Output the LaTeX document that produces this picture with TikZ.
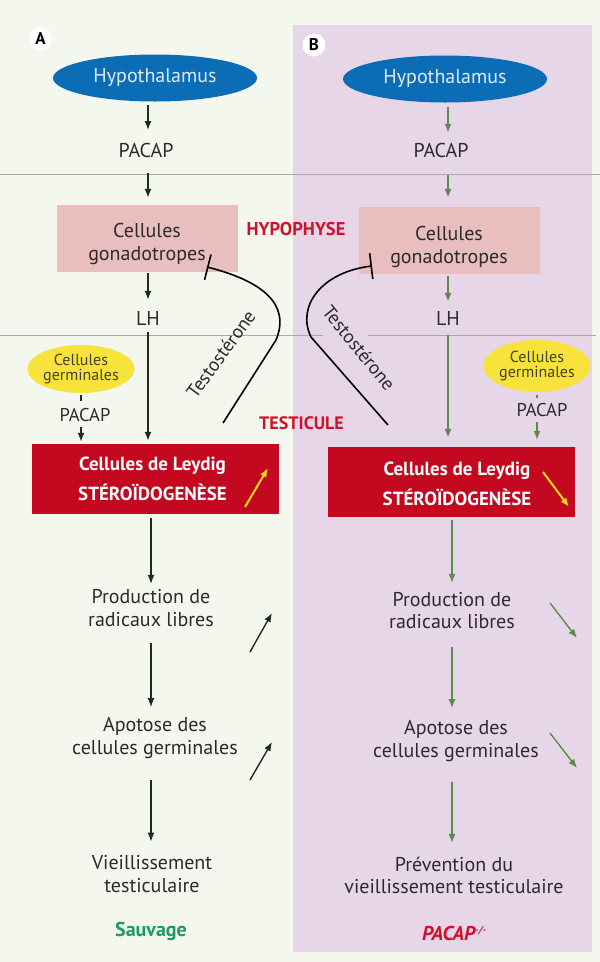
\documentclass[tikz,border=0pt]{standalone}
\usepackage{fontspec}
\setmainfont{PT Sans}
\usetikzlibrary{arrows.meta,shapes.geometric,calc}
\definecolor{bgc}{HTML}{F4F7EE}
\definecolor{panelB}{HTML}{E7D6E8}
\definecolor{linec}{HTML}{A8A8A8}
\definecolor{hypc}{HTML}{0A6DB5}
\definecolor{hyptxt}{HTML}{DDEBF6}
\definecolor{gonc}{HTML}{E9BEBE}
\definecolor{leyc}{HTML}{C4081F}
\definecolor{yelc}{HTML}{F8E33C}
\definecolor{germtxt}{HTML}{44421E}
\definecolor{txtc}{HTML}{2B2B2B}
\definecolor{arAc}{HTML}{1F2A22}
\definecolor{arBc}{HTML}{5E8B4C}
\definecolor{redlbl}{HTML}{D0112B}
\definecolor{greenlbl}{HTML}{1E9A5C}
\definecolor{arrowyel}{HTML}{F2D81E}
\tikzset{
  txt/.style={inner sep=0pt, align=center, text=txtc, font=\fontsize{20}{22.5}\selectfont},
  hypo/.style={ellipse, fill=hypc, minimum width=204pt, minimum height=47pt, inner sep=0pt,
    text=hyptxt, font=\fontsize{20}{22}\selectfont},
  gonbox/.style={rectangle, fill=gonc, minimum width=181pt, minimum height=67pt, inner sep=0pt},
  leybox/.style={rectangle, fill=leyc, minimum width=247pt, minimum height=70pt, inner sep=0pt},
  leytxt/.style={inner sep=0pt, align=center, text=white, font=\bfseries\fontsize{19}{30}\selectfont},
  germ/.style={ellipse, fill=yelc, inner sep=0pt, align=center, text=germtxt,
    font=\fontsize{16}{15.5}\selectfont},
  smallpacap/.style={inner sep=0pt, text=txtc, font=\fontsize{18.5}{20}\selectfont},
  redlabel/.style={inner sep=0pt, text=redlbl, font=\bfseries\fontsize{18.5}{20}\selectfont},
  testo/.style={inner sep=0pt, text=txtc, font=\fontsize{19}{20}\selectfont},
  arA/.style={draw=arAc, line width=1.4pt, -{Latex[length=9pt,width=7pt]}},
  arB/.style={draw=arBc, line width=1.4pt, -{Latex[length=9pt,width=7pt]}},
  yarrow/.style={draw=arrowyel, line width=2pt, -{Latex[length=9pt,width=7pt]}},
  inhib/.style={draw=black, line width=1.6pt, -{Bar[width=26pt]}},
  sepline/.style={draw=linec, line width=0.8pt},
  letter/.style={circle, fill=white, minimum size=23pt, inner sep=0pt, text=black,
    font=\bfseries\fontsize{17}{17}\selectfont}
}
\begin{document}
\begin{tikzpicture}[x=1pt,y=-1pt]
\useasboundingbox (0,0) rectangle (600,962);
\fill[bgc] (0,0) rectangle (600,962);
\fill[panelB] (293,25) rectangle (592,952);
\draw[sepline] (0,174) -- (600,174);
\draw[sepline] (0,335) -- (323,335);
\draw[sepline] (368,335) -- (596,335);

% letters
\node[letter] (letA) at (40.5,39) {A};
\node[letter] (letB) at (314,45) {B};

% ---------- Panel A ----------
\node[hypo] (hypA) at (155,78) {Hypothalamus};
\node[txt] (pacapA) at (146,150) {PACAP};
\node[gonbox] (gonA) at (147.5,238.5) {};
\node[txt, font=\fontsize{20}{23}\selectfont] (gontA) at (147,244) {Cellules\\gonadotropes};
\node[txt] (lhA) at (148,318) {LH};
\node[leybox] (leyA) at (155.5,479) {};
\node[leytxt] (leytA) at (152.5,478.5) {Cellules de Leydig\\STÉROÏDOGENÈSE};
\node[germ, minimum width=94pt, minimum height=48pt] (germA) at (81,369) {Cellules\\germinales};
\node[smallpacap] (pacapsA) at (85,415) {PACAP};
\node[txt] (prodA) at (151,608) {Production de\\radicaux libres};
\node[txt] (apoA) at (155,738) {Apotose des\\cellules germinales};
\node[txt, font=\fontsize{20}{23}\selectfont] (vieA) at (152,874.5) {Vieillissement\\testiculaire};
\node[inner sep=0pt, text=greenlbl, font=\bfseries\fontsize{20}{20}\selectfont] (sauvA) at (151,931) {Sauvage};

\draw[arA, shorten <=3.5pt, shorten >=12.5pt] (hypA.south -| lhA) -- (pacapA.north -| lhA);
\draw[arA, shorten <=16pt, shorten >=7pt] (pacapA.south -| lhA) -- (gonA.north -| lhA);
\draw[arA, shorten <=1pt, shorten >=11pt] (gonA.south -| lhA) -- (lhA.north);
\draw[arA, shorten <=7pt, shorten >=3pt] (lhA.south) -- (leyA.north -| lhA);
\draw[arA, shorten <=4pt, shorten >=5.5pt] (leyA.south -| prodA) -- (prodA.north);
\draw[arA, shorten <=16.5pt, shorten >=10.2pt] (prodA.south) -- (apoA.north -| prodA);
\draw[arA, shorten <=21.5pt, shorten >=14pt] (apoA.south -| prodA) -- (vieA.north -| prodA);
\draw[draw=arAc, line width=1.4pt, shorten <=2pt, shorten >=7pt] (germA.south) -- (pacapsA.north -| germA);
\draw[arA, shorten <=5.5pt, shorten >=2pt] (pacapsA.south -| germA) -- (leyA.north -| germA);

% yellow arrow A
\coordinate (yA0) at ([shift={(89.5,28)}]leyA.center);
\coordinate (yA1) at ([shift={(112.5,-11)}]leyA.center);
\draw[yarrow] (yA0) -- (yA1);

% side arrows A
\coordinate (sA0) at (250,652); \coordinate (sA1) at (272,613);
\coordinate (sA2) at (250,780); \coordinate (sA3) at (272,742);
\draw[arA] (sA0) -- (sA1);
\draw[arA] (sA2) -- (sA3);

% testosterone A
\coordinate (tA0) at (223,423);
\coordinate (tA1) at (276,340);
\coordinate (tA2) at (207,267);
\draw[inhib] (tA0) -- (tA1) .. controls (291,304) and (262,281) .. (tA2);
\node[testo, rotate=54] (testA) at (221,354) {Testostérone};

% ---------- Panel B ----------
\node[hypo] (hypB) at (445,79) {Hypothalamus};
\node[txt] (pacapB) at (441,150.5) {PACAP};
\node[gonbox] (gonB) at (449.5,240.5) {};
\node[txt, font=\fontsize{20}{23}\selectfont] (gontB) at (449,247) {Cellules\\gonadotropes};
\node[txt] (lhB) at (448,318.5) {LH};
\node[leybox] (leyB) at (451.5,482) {};
\node[leytxt] (leytB) at (457,483.5) {Cellules de Leydig\\STÉROÏDOGENÈSE};
\node[germ, minimum width=93pt, minimum height=52pt] (germB) at (537,366) {Cellules\\germinales};
\node[smallpacap] (pacapsB) at (542,410) {PACAP};
\node[txt] (prodB) at (452,610.5) {Production de\\radicaux libres};
\node[txt] (apoB) at (456,741) {Apotose des\\cellules germinales};
\node[txt, font=\fontsize{20}{22}\selectfont] (prevB) at (454,875.5) {Prévention du\\vieillissement testiculaire};
\node[inner sep=0pt, text=redlbl, font=\bfseries\itshape\fontsize{20}{20}\selectfont] (pacapmB) at (454,933)
  {PACAP\raisebox{7pt}{\fontsize{10}{10}\selectfont -/-}};

\draw[arB, shorten <=4.5pt, shorten >=10.3pt] (hypB.south -| lhB) -- (pacapB.north -| lhB);
\draw[arB, shorten <=17.5pt, shorten >=9pt] (pacapB.south -| lhB) -- (gonB.north -| lhB);
\draw[arB, shorten <=2pt, shorten >=9.5pt] (gonB.south -| lhB) -- (lhB.north);
\draw[arB, shorten <=9.5pt, shorten >=9pt] (lhB.south) -- (leyB.north -| lhB);
\draw[arB, shorten <=3pt, shorten >=9pt] (leyB.south -| prodB) -- (prodB.north);
\draw[arB, shorten <=18pt, shorten >=12.2pt] (prodB.south) -- (apoB.north -| prodB);
\draw[arB, shorten <=20.2pt, shorten >=14pt] (apoB.south -| prodB) -- (prevB.north -| prodB);
\draw[draw=arBc, line width=1.4pt, shorten <=3pt, shorten >=5pt] (germB.south) -- (pacapsB.north -| germB);
\draw[arB, shorten <=5.5pt, shorten >=7pt] (pacapsB.south -| germB) -- (leyB.north -| germB);

% yellow arrow B
\coordinate (yB0) at ([shift={(91.5,-10)}]leyB.center);
\coordinate (yB1) at ([shift={(117.5,25)}]leyB.center);
\draw[yarrow] (yB0) -- (yB1);

% side arrows B
\coordinate (sB0) at (550,603); \coordinate (sB1) at (577,638);
\coordinate (sB2) at (550,733); \coordinate (sB3) at (577,768);
\draw[arB] (sB0) -- (sB1);
\draw[arB] (sB2) -- (sB3);

% testosterone B
\coordinate (tB0) at (388,425);
\coordinate (tB1) at (311,337);
\coordinate (tB2) at (372,266);
\draw[inhib] (tB0) -- (tB1) .. controls (296,306) and (322,272) .. (tB2);
\node[testo, rotate=-51] (testB) at (359,348) {Testostérone};

% region labels
\node[redlabel] (hypoph) at (296,229.5) {HYPOPHYSE};
\node[redlabel, font=\bfseries\fontsize{18}{20}\selectfont] (testic) at (301.5,423) {TESTICULE};
\end{tikzpicture}
\end{document}
